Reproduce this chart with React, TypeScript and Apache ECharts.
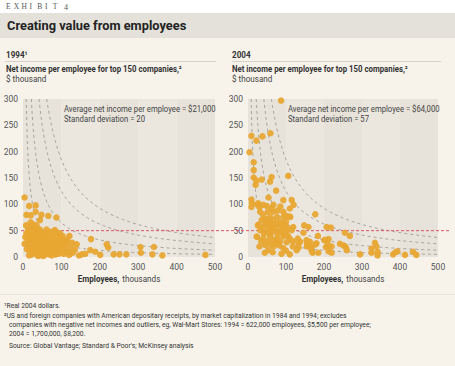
import React, { useEffect, useRef } from "react";
import * as echarts from "echarts";

const yTicks = [0, 50, 100, 150, 200, 250, 300];
const xTicks = [0, 100, 200, 300, 400, 500];
const isoCurves = [2500, 6500, 12500, 18500];
const avgLine = 50;

const data1994: number[][] = [
  [4,113],[16,97],[33,98],[9,80],[20,79],[33,86],[48,80],[66,78],[87,75],[44,70],[26,62],[17,57],[20,66],[30,55],[13,51],[29,52],[44,52],[61,52],[83,51],[8,60],[35,60],
  [4,25],[6,38],[9,45],[12,30],[14,20],[15,42],[17,38],[18,10],[19,28],[21,47],[22,33],[23,18],[24,5],[25,40],[26,25],[27,12],[28,35],[29,44],[30,20],[31,30],[32,8],[33,38],[34,15],[35,26],[36,45],[37,5],[38,33],[39,20],[40,40],[41,12],[42,28],[43,36],[44,3],[45,22],[46,47],[47,15],[48,30],[49,8],[50,38],[51,25],[52,18],[53,42],[54,10],[55,32],[56,4],[57,22],[58,35],[59,14],[60,28],[61,45],[62,7],[63,20],[64,33],[65,12],[66,25],[67,40],[68,5],[69,18],[70,30],[72,10],[73,36],[74,22],[75,3],[76,28],[78,15],[79,42],[80,8],[82,25],[83,33],[84,18],[85,5],[87,30],[88,12],[90,22],[91,38],[92,6],[94,28],[95,16],[97,33],[98,9],[100,24],[102,31],[104,14],[106,6],[108,29],[110,20],[112,10],[115,33],[113,26],
  [10,15],[16,3],[27,48],[53,2],[71,48],[96,45],[58,8],[39,2],[86,47],[121,40],[128,27],[103,40],[120,4],
  [100,33],[114,29],[118,10],[135,14],[140,24],[146,3],[162,6],[175,13],[177,34],[188,10],[201,4],[218,24],[222,18],[236,5],[251,5],[269,5],[306,19],[307,8],[337,5],[341,19],[363,3],[475,4],[153,5],[125,18],[130,8]
];

const data2004: number[][] = [
  [87,297],[9,230],[22,221],[38,229],[59,235],[4,199],[15,180],[15,165],[15,151],[22,145],[20,137],[36,147],[58,143],[62,152],[106,154],[74,126],
  [9,109],[10,102],[9,95],[24,100],[30,95],[54,113],[93,108],[115,108],[120,99],[110,92],[101,78],[111,76],[177,81],
  [27,102],[49,97],[67,99],[93,86],[66,86],[52,86],[32,86],[40,80],[58,76],[76,76],[93,76],[110,77],[36,70],[49,67],[66,70],[84,67],[100,67],[27,61],[45,61],[62,59],[80,61],[97,59],[119,57],
  [32,51],[49,48],[66,50],[84,48],[100,48],[115,51],[23,39],[40,35],[58,39],[76,35],[93,39],[110,35],[45,23],[67,20],[93,17],[53,13],[75,26],[128,13],
  [38,56],[55,55],[72,54],[90,53],[42,44],[60,44],[78,43],[95,44],[105,40],[35,30],[52,30],[68,32],[85,30],[102,28],[118,30],[30,20],[60,24],[82,22],[100,12],[118,20],[44,8],[65,9],[88,6],[110,5],[26,60],[71,64],[89,62],[57,66],[104,56],[45,72],[78,88],[62,93],[85,96],[40,99],
  [148,60],[159,57],[207,57],[218,56],[255,46],[268,40],[24,38],[184,40],[146,46],[131,35],[133,25],[133,18],[155,25],[155,20],[163,29],[166,20],[170,8],[178,24],[185,8],[201,32],[212,34],[205,19],[212,11],[220,8],[242,25],[251,22],[257,19],[260,13],
  [137,29],[154,32],[158,23],[167,18],[180,26],[167,13],[203,32],[211,23],[220,20],
  [295,5],[325,16],[325,8],[334,27],[338,20],[341,10],[341,3],[382,5],[388,9],[393,11],[413,4],[434,10],[443,4]
];

const FONT = "'Roboto', 'Liberation Sans', sans-serif";
const DOT = "#e8a632";

function curvePoints(c: number): number[][] {
  const pts: number[][] = [];
  const x0 = c / 300;
  const n = 80;
  for (let i = 0; i <= n; i++) {
    const x = x0 * Math.pow(500 / x0, i / n);
    pts.push([x, c / x]);
  }
  return pts;
}

export default function App() {
  const ref = useRef<HTMLDivElement>(null);
  useEffect(() => {
    if (!ref.current) return;
    const chart = echarts.init(ref.current, undefined, { renderer: "svg" });
    const grids = [
      { left: 23, top: 99, width: 192, height: 158 },
      { left: 248, top: 99, width: 190, height: 158 },
    ];
    const mkX = (i: number) => ({
      type: "value", gridIndex: i, min: 0, max: 500, interval: 100,
      axisLine: { show: false }, axisTick: { show: false },
      splitLine: { show: false },
      splitArea: { show: true, areaStyle: { color: ["#e8e3da", "#ebe7df"] } },
      axisLabel: { color: "#555", fontFamily: FONT, fontSize: 8.5, margin: 5 },
    });
    const mkY = (i: number) => ({
      type: "value", gridIndex: i, min: 0, max: 300, interval: 50,
      axisLine: { show: false }, axisTick: { show: false },
      splitLine: { show: true, lineStyle: { color: "#f6f3ee", width: 1 } },
      axisLabel: { color: "#555", fontFamily: FONT, fontSize: 8.5, margin: 5 },
    });
    const series: any[] = [];
    [0, 1].forEach((gi) => {
      isoCurves.forEach((c) => {
        series.push({
          type: "line", xAxisIndex: gi, yAxisIndex: gi, data: curvePoints(c),
          showSymbol: false, symbol: "none", z: 1, silent: true,
          lineStyle: { color: "#97938b", width: 0.8, type: [3, 3] },
        });
      });
      series.push({
        type: "scatter", xAxisIndex: gi, yAxisIndex: gi,
        data: gi === 0 ? data1994 : data2004,
        symbolSize: 6.5, z: 3,
        itemStyle: { color: DOT, opacity: 0.95 },
      });
    });

    chart.setOption({
      animation: false,
      grid: grids,
      xAxis: [mkX(0), mkX(1)],
      yAxis: [mkY(0), mkY(1)],
      series,
    });

    const p1 = chart.convertToPixel({ gridIndex: 0 }, [0, avgLine]) as number[];
    const p2 = chart.convertToPixel({ gridIndex: 1 }, [500, avgLine]) as number[];

    const txt = (x: number, y: number, text: string, o: any = {}) => ({
      type: "text", x, y, silent: true, scaleX: o.scaleX || 1,
      style: {
        text, fill: o.fill || "#333", fontFamily: o.fontFamily || FONT,
        fontSize: o.fontSize || 9, fontWeight: o.fontWeight || "normal",
        align: o.align || "left", verticalAlign: "middle",
      },
      z: 10,
    });

    const rich = {
      b: { fontFamily: FONT, fontSize: 9, fontWeight: "bold", fill: "#333" },
      n: { fontFamily: FONT, fontSize: 9, fill: "#444" },
    };

    const exhibit = "EXHIBIT".split("");
    const SERIF = "'Liberation Serif', 'DejaVu Serif', serif";
    const NOTE = { fontSize: 7.5, fill: "#333", scaleX: 0.9 };
    const graphic: any[] = [
      { type: "rect", shape: { x: 0, y: 38, width: 455, height: 328 }, style: { fill: "#f7f3eb" }, z: -10, silent: true },
      { type: "rect", shape: { x: 0, y: 13, width: 455, height: 25 }, style: { fill: "#e3e1da" }, z: -10, silent: true },
      ...exhibit.map((ch, i) => txt(6 + i * 7.8, 6, ch, { fontFamily: SERIF, fontSize: 7.5, fill: "#555" })),
      txt(64, 7, "4", { fontFamily: SERIF, fontSize: 8, fill: "#555" }),
      txt(7, 25.5, "Creating value from employees", { fontSize: 13.5, fontWeight: "bold", fill: "#222", scaleX: 0.95 }),
      txt(6, 55, "1994¹", { fontWeight: "bold", fontSize: 9, scaleX: 0.9 }),
      { type: "line", shape: { x1: 5, y1: 61.5, x2: 216, y2: 61.5 }, style: { stroke: "#d6d1c8", lineWidth: 1 }, silent: true },
      txt(6, 68.5, "Net income per employee for top 150 companies,²", { fontWeight: "bold", fontSize: 9, scaleX: 0.87 }),
      txt(6, 79, "$ thousand", { fontSize: 9, fill: "#444", scaleX: 0.9 }),
      txt(232, 55, "2004", { fontWeight: "bold", fontSize: 9, scaleX: 0.9 }),
      { type: "line", shape: { x1: 232, y1: 61.5, x2: 441, y2: 61.5 }, style: { stroke: "#d6d1c8", lineWidth: 1 }, silent: true },
      txt(232, 68.5, "Net income per employee for top 150 companies,²", { fontWeight: "bold", fontSize: 9, scaleX: 0.87 }),
      txt(232, 79, "$ thousand", { fontSize: 9, fill: "#444", scaleX: 0.9 }),
      txt(64, 109, "Average net income per employee = $21,000", { fontSize: 9, fill: "#444", scaleX: 0.86 }),
      txt(64, 119, "Standard deviation = 20", { fontSize: 9, fill: "#444", scaleX: 0.86 }),
      txt(288, 109, "Average net income per employee = $64,000", { fontSize: 9, fill: "#444", scaleX: 0.86 }),
      txt(288, 119, "Standard deviation = 57", { fontSize: 9, fill: "#444", scaleX: 0.86 }),
      {
        type: "text", x: 119, y: 279, silent: true, z: 10, scaleX: 0.9,
        style: { text: "{b|Employees,} {n|thousands}", align: "center", verticalAlign: "middle", rich },
      },
      {
        type: "text", x: 343, y: 279, silent: true, z: 10, scaleX: 0.9,
        style: { text: "{b|Employees,} {n|thousands}", align: "center", verticalAlign: "middle", rich },
      },
      {
        type: "line", z: 2, silent: true,
        shape: { x1: p1[0] - 2, y1: p1[1], x2: p2[0] + 12, y2: p2[1] },
        style: { stroke: "#d9566a", lineWidth: 1, lineDash: [3, 2] },
      },
      { type: "line", shape: { x1: 0, y1: 294.5, x2: 455, y2: 294.5 }, style: { stroke: "#ebe6dd", lineWidth: 1 }, silent: true },
      txt(4, 305, "¹Real 2004 dollars.", NOTE),
      txt(4, 315, "²US and foreign companies with American depositary receipts, by market capitalization in 1984 and 1994; excludes", NOTE),
      txt(9, 324, "companies with negative net incomes and outliers, eg, Wal-Mart Stores: 1994 = 622,000 employees, $5,500 per employee;", NOTE),
      txt(9, 333, "2004 = 1,700,000, $8,200.", NOTE),
      txt(9, 345, "Source: Global Vantage; Standard & Poor's; McKinsey analysis", NOTE),
    ];
    chart.setOption({ graphic });
    return () => chart.dispose();
  }, []);
  return (
    <div style={{ position: "fixed", left: 0, top: 0, width: 455, height: 366, background: "#ffffff" }}>
      <div ref={ref} style={{ width: 455, height: 366 }} />
    </div>
  );
}
